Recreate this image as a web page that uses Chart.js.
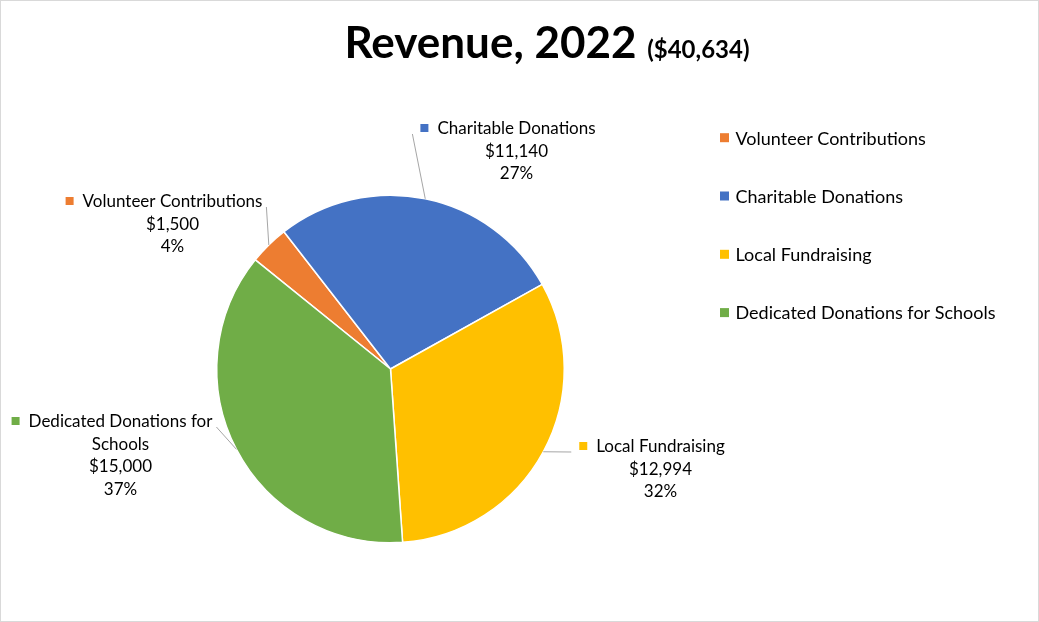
<!DOCTYPE html>
<html>
<head>
<meta charset="utf-8">
<script src="https://cdn.jsdelivr.net/npm/chart.js@4/dist/chart.umd.min.js"></script>
<style>
  html, body { margin: 0; padding: 0; background: #fff; }
  #wrap { position: relative; width: 1039px; height: 622px; }
</style>
</head>
<body>
<div id="wrap"><canvas id="chart" width="1039" height="622"></canvas></div>
<script>
const categories = ['Volunteer Contributions', 'Charitable Donations', 'Local Fundraising', 'Dedicated Donations for Schools'];
const revenue = [1500, 11140, 12994, 15000];
const sliceColors = ['#ED7D31', '#4472C4', '#FFC000', '#70AD47'];
const chartTitle = 'Revenue, 2022';
const chartTotalText = '($40,634)';

// data label blocks, offset from the pie centre to the first line's centre/baseline
const labelOffsets = [[-218, -162], [126, -235], [270, 83], [-270, 58]];
const FONT = 'Lato, "Noto Sans", sans-serif';

function money(v) {
    return '$' + v.toLocaleString('en-US');
}

function wrapText(ctx, text, maxWidth) {
    const words = text.split(' ');
    const lines = [];
    let line = '';
    words.forEach(w => {
        const test = line ? line + ' ' + w : w;
        if (ctx.measureText(test).width > maxWidth && line) {
            lines.push(line);
            line = w;
        } else {
            line = test;
        }
    });
    lines.push(line);
    return lines;
}

const frameAndTitle = {
    id: 'frameAndTitle',
    beforeDraw(chart) {
        const ctx = chart.ctx;
        ctx.save();
        ctx.fillStyle = '#fff';
        ctx.fillRect(0, 0, chart.width, chart.height);
        ctx.strokeStyle = '#d9d9d9';
        ctx.lineWidth = 1;
        ctx.strokeRect(0.5, 0.5, chart.width - 1, chart.height - 1);

        // title, two sizes on one baseline
        ctx.fillStyle = '#000';
        ctx.textBaseline = 'alphabetic';
        ctx.font = 'bold 44px ' + FONT;
        const w1 = ctx.measureText(chartTitle + ' ').width;
        ctx.font = 'bold 24px ' + FONT;
        const w2 = ctx.measureText(chartTotalText).width;
        let x = 547 - (w1 + w2) / 2;
        ctx.font = 'bold 44px ' + FONT;
        ctx.fillText(chartTitle, x, 58);
        ctx.font = 'bold 24px ' + FONT;
        ctx.fillText(chartTotalText, x + w1, 58);
        ctx.restore();
    }
};

const sideLegend = {
    id: 'sideLegend',
    afterDraw(chart) {
        const ctx = chart.ctx;
        ctx.save();
        ctx.font = '18px ' + FONT;
        ctx.textBaseline = 'middle';
        chart.data.labels.forEach((lab, i) => {
            const y = 137.7 + i * 58.3;
            ctx.fillStyle = chart.data.datasets[0].backgroundColor[i];
            ctx.fillRect(720, y - 4.5, 9, 9);
            ctx.fillStyle = '#000';
            ctx.fillText(lab, 735.5, y + 1);
        });
        ctx.restore();
    }
};

const outsideLabels = {
    id: 'outsideLabels',
    afterDatasetsDraw(chart) {
        const ctx = chart.ctx;
        const meta = chart.getDatasetMeta(0);
        const values = chart.data.datasets[0].data;
        const total = values.reduce((a, b) => a + b, 0);
        ctx.save();
        ctx.font = '17px ' + FONT;
        ctx.textBaseline = 'alphabetic';
        ctx.textAlign = 'center';
        meta.data.forEach((arc, i) => {
            const p = arc.getProps(['x', 'y', 'startAngle', 'endAngle', 'outerRadius'], true);
            const mid = (p.startAngle + p.endAngle) / 2;
            const ex = p.x + Math.cos(mid) * p.outerRadius;
            const ey = p.y + Math.sin(mid) * p.outerRadius;
            const cx = p.x + labelOffsets[i][0];
            const by = p.y + labelOffsets[i][1];

            const nameLines = wrapText(ctx, chart.data.labels[i], 207);
            const lines = nameLines.concat([money(values[i]), Math.round(values[i] / total * 100) + '%']);
            const w0 = ctx.measureText(nameLines[0]).width;
            const textLeft = cx - w0 / 2;
            const markLeft = textLeft - 17;

            // leader line from label edge to the middle of the slice edge
            const sx = ex > cx ? cx + w0 / 2 + 4 : markLeft - 8;
            ctx.strokeStyle = '#a6a6a6';
            ctx.lineWidth = 1;
            ctx.beginPath();
            ctx.moveTo(sx, by);
            ctx.lineTo(ex, ey);
            ctx.stroke();

            ctx.fillStyle = chart.data.datasets[0].backgroundColor[i];
            ctx.fillRect(markLeft, by - 10, 8, 8);
            ctx.fillStyle = '#000';
            lines.forEach((t, k) => ctx.fillText(t, cx, by + k * 22.5));
        });
        ctx.restore();
    }
};

new Chart(document.getElementById('chart'), {
    type: 'pie',
    data: {
        labels: categories,
        datasets: [{
            data: revenue,
            backgroundColor: sliceColors,
            borderColor: '#fff',
            borderWidth: 1.5
        }]
    },
    options: {
        responsive: false,
        animation: false,
        rotation: -51.1,
        layout: {
            padding: { left: 216, right: 474, top: 194, bottom: 78 }
        },
        plugins: {
            legend: { display: false },
            tooltip: { enabled: false }
        }
    },
    plugins: [frameAndTitle, outsideLabels, sideLegend]
});
</script>
</body>
</html>
